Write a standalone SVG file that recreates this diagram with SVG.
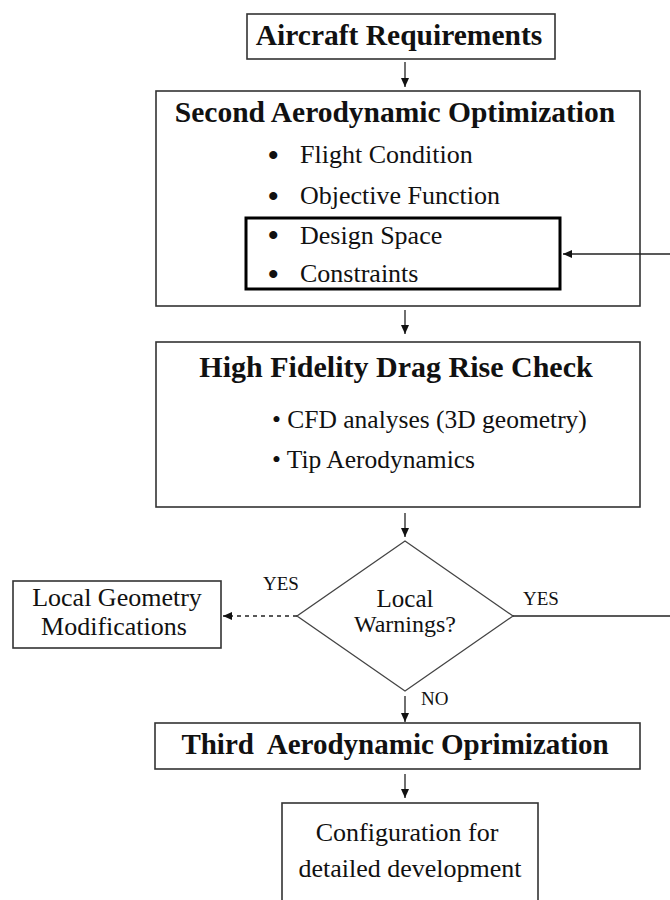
<svg xmlns="http://www.w3.org/2000/svg" width="670" height="900" viewBox="0 0 670 900">
<defs>
<marker id="ah" markerUnits="userSpaceOnUse" markerWidth="9" markerHeight="8" refX="9" refY="4" orient="auto">
<path d="M0,0 L9,4 L0,8 z" fill="#111"/>
</marker>
<style>
.box{fill:#fff;stroke:#333;stroke-width:1.6}
.thick{fill:none;stroke:#000;stroke-width:3}
.t{font-family:"Liberation Serif","Times New Roman",Times,serif;fill:#111}
.b{font-weight:bold}
.c{text-anchor:middle}
.dot{font-family:"Liberation Serif","Times New Roman",Times,serif;font-size:30px;font-weight:bold;fill:#111}
.con{fill:none;stroke:#222;stroke-width:1.3}
.arr{marker-end:url(#ah)}
</style>
</defs>
<rect width="670" height="900" fill="#fff"/>

<g id="aircraft-requirements">
<rect class="box" x="247" y="14" width="308" height="45"/>
<text class="t b c" x="399" y="45" font-size="29.5">Aircraft Requirements</text>
</g>

<g id="second-optimization">
<rect class="box" x="156" y="91" width="484" height="215"/>
<text class="t b c" x="395" y="122" font-size="29.5">Second Aerodynamic Optimization</text>
<text class="dot" x="268" y="165">•</text>
<text class="t" x="300" y="163" font-size="26">Flight Condition</text>
<text class="dot" x="268" y="206">•</text>
<text class="t" x="300" y="204" font-size="26">Objective Function</text>
<rect class="thick" x="246" y="218" width="314" height="71"/>
<text class="dot" x="268" y="245">•</text>
<text class="t" x="300" y="244" font-size="26">Design Space</text>
<text class="dot" x="268" y="284">•</text>
<text class="t" x="300" y="282" font-size="26">Constraints</text>
</g>

<g id="high-fidelity-check">
<rect class="box" x="156" y="342" width="484" height="165"/>
<text class="t b c" x="396" y="377" font-size="30">High Fidelity Drag Rise Check</text>
<text class="t" x="272" y="428" font-size="25.5">• CFD analyses (3D geometry)</text>
<text class="t" x="272" y="468" font-size="25.5">• Tip Aerodynamics</text>
</g>

<g id="local-warnings">
<polygon points="405,541 513,616 405,691 297,616" fill="#fff" stroke="#444" stroke-width="1.3"/>
<text class="t c" x="405" y="607" font-size="25">Local</text>
<text class="t c" x="405" y="632" font-size="24">Warnings?</text>
</g>

<g id="local-geometry">
<rect class="box" x="13" y="581" width="208" height="67"/>
<text class="t c" x="117" y="606" font-size="26">Local Geometry</text>
<text class="t c" x="114" y="635" font-size="26">Modifications</text>
</g>

<g id="third-optimization">
<rect class="box" x="155" y="723" width="485" height="46"/>
<text class="t b c" x="395" y="754" font-size="29" style="white-space:pre">Third  Aerodynamic Oprimization</text>
</g>

<g id="configuration">
<rect class="box" x="282" y="803" width="256" height="110"/>
<text class="t c" x="407" y="841" font-size="26">Configuration for</text>
<text class="t c" x="410" y="877" font-size="26">detailed development</text>
</g>

<g id="connectors">
<line class="con arr" x1="405" y1="62" x2="405" y2="87"/>
<line class="con arr" x1="405" y1="310" x2="405" y2="334"/>
<line class="con arr" x1="405" y1="513" x2="405" y2="537"/>
<line class="con arr" x1="405" y1="696" x2="405" y2="722"/>
<line class="con arr" x1="405" y1="774" x2="405" y2="798"/>
<line class="con arr" x1="670" y1="254" x2="563" y2="254"/>
<line class="con" x1="513" y1="616" x2="670" y2="616"/>
<line class="con arr" x1="297" y1="616" x2="223" y2="616" stroke-dasharray="4,4"/>
<text class="t" x="263" y="590" font-size="19">YES</text>
<text class="t" x="523" y="605" font-size="19">YES</text>
<text class="t" x="421" y="705" font-size="19">NO</text>
</g>
</svg>
